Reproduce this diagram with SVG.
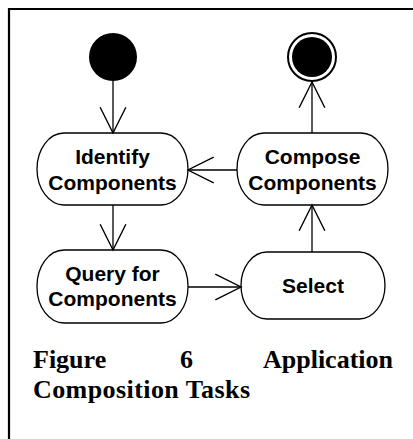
<svg xmlns="http://www.w3.org/2000/svg" width="413" height="439" viewBox="0 0 413 439">
<style>
.node{fill:#fff;stroke:#000;stroke-width:1.3}
.lbl{font-family:"Liberation Sans",Arial,sans-serif;font-weight:bold;font-size:21px;fill:#000;text-anchor:middle}
.edge{fill:none;stroke:#000;stroke-width:1.3}
.cap{font-family:"Liberation Serif","Times New Roman",serif;font-weight:bold;font-size:26px;fill:#000}
</style>
<defs>
<marker id="arr" markerUnits="userSpaceOnUse" markerWidth="30" markerHeight="30" viewBox="-26 -14 28 28" refX="0" refY="0" orient="auto" overflow="visible">
<path d="M-24,-12 L0,0 L-24,12" fill="none" stroke="#000" stroke-width="1.3"/>
</marker>
</defs>
<rect width="413" height="439" fill="#fff"/>
<path d="M9,445 V9 H420" fill="none" stroke="#000" stroke-width="2.2"/>
<g id="start"><circle cx="113" cy="57" r="24" fill="#000"/></g>
<g id="end"><circle cx="312" cy="57" r="24" fill="none" stroke="#000" stroke-width="2"/><circle cx="312" cy="57" r="20" fill="#000"/></g>
<g id="identify"><rect class="node" x="37" y="133" width="151" height="72" rx="27" ry="36"/><text class="lbl" x="112.5" y="164">Identify</text><text class="lbl" x="112.5" y="190">Components</text></g>
<g id="compose"><rect class="node" x="237" y="133" width="151" height="72" rx="27" ry="36"/><text class="lbl" x="312.5" y="164">Compose</text><text class="lbl" x="312.5" y="190">Components</text></g>
<g id="query"><rect class="node" x="37" y="250" width="151" height="73" rx="27" ry="36"/><text class="lbl" x="112.5" y="281">Query for</text><text class="lbl" x="112.5" y="306">Components</text></g>
<g id="select"><rect class="node" x="241" y="252" width="144" height="67" rx="26" ry="33.5"/><text class="lbl" x="313" y="293">Select</text></g>
<g id="connectors">
<line class="edge" x1="113" y1="81" x2="113" y2="133" marker-end="url(#arr)"/>
<line class="edge" x1="237" y1="170" x2="188" y2="170" marker-end="url(#arr)"/>
<line class="edge" x1="312" y1="133" x2="312" y2="82" marker-end="url(#arr)"/>
<line class="edge" x1="113" y1="205" x2="113" y2="250" marker-end="url(#arr)"/>
<line class="edge" x1="188" y1="287" x2="241" y2="287" marker-end="url(#arr)"/>
<line class="edge" x1="312" y1="252" x2="312" y2="205" marker-end="url(#arr)"/>
</g>
<g id="caption">
<text class="cap" x="33" y="368">Figure</text>
<text class="cap" x="180" y="368">6</text>
<text class="cap" x="393" y="368" text-anchor="end">Application</text>
<text class="cap" x="33" y="398" textLength="217" lengthAdjust="spacing">Composition Tasks</text>
</g>
</svg>
